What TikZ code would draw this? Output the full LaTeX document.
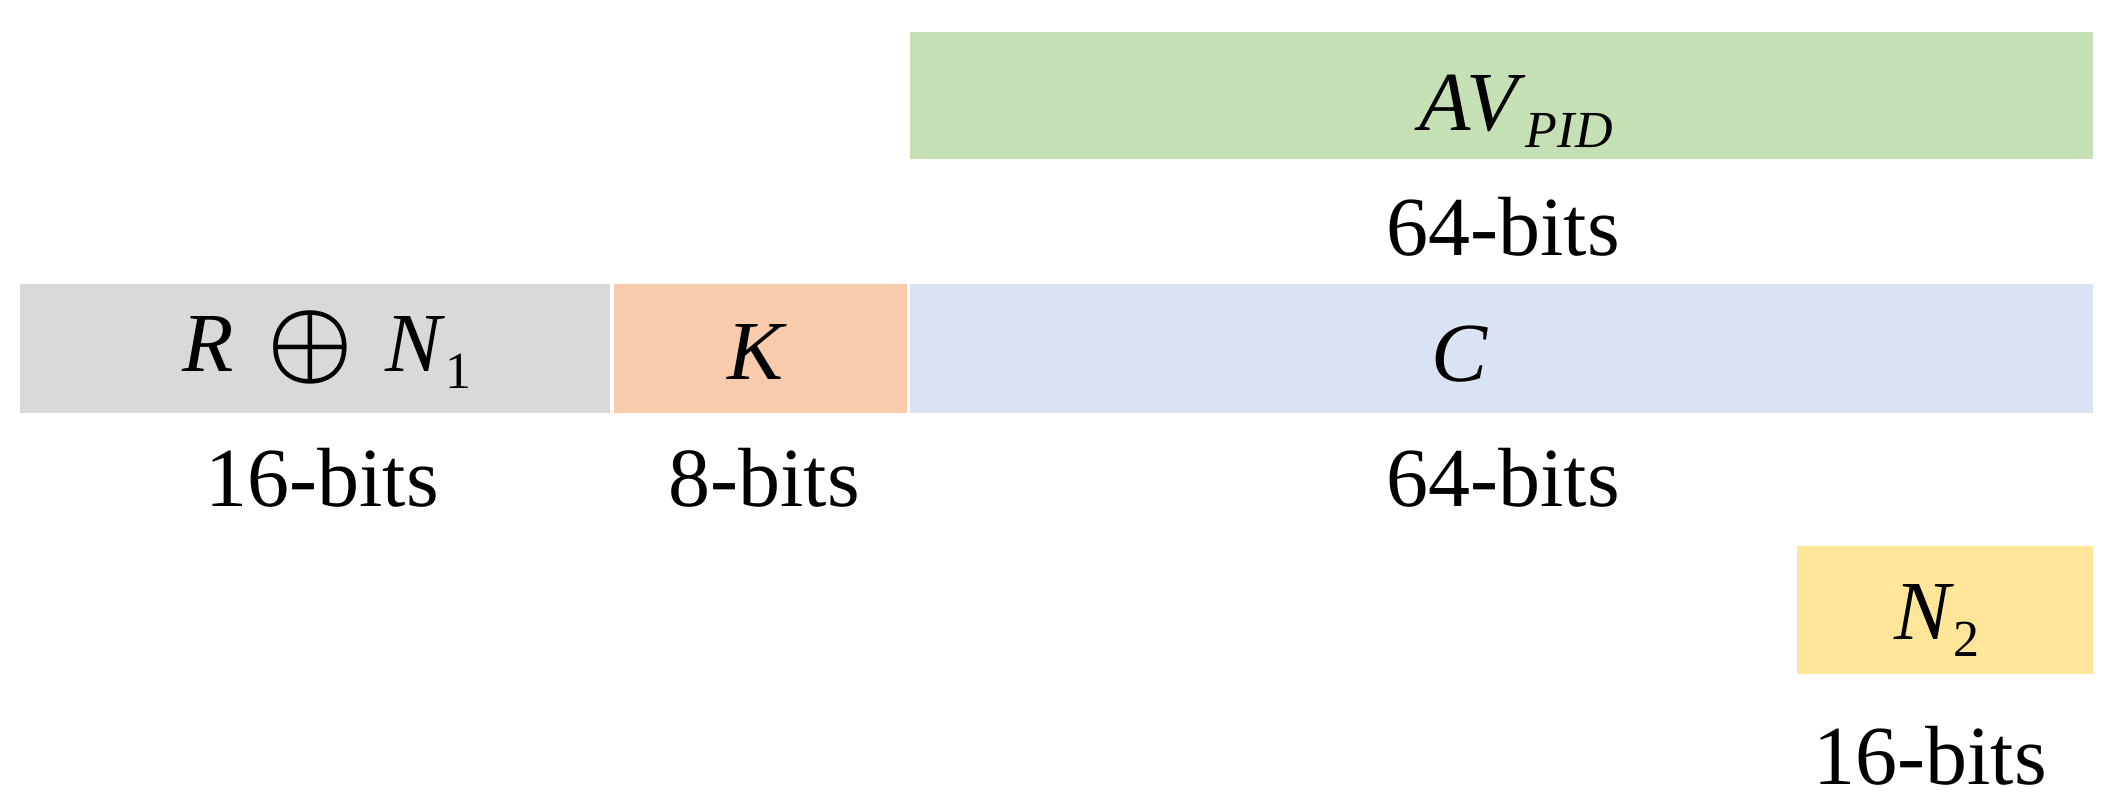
\documentclass[tikz,border=0pt]{standalone}
\usepackage{fix-cm}
\usepackage{bm}
\usepackage{fontspec}
\setmainfont{Liberation Serif}
\definecolor{cgray}{HTML}{D9D9D9}
\definecolor{corange}{HTML}{F8CBAD}
\definecolor{cblue}{HTML}{DAE3F3}
\definecolor{cgreen}{HTML}{C5E0B4}
\definecolor{cyellow}{HTML}{FFE699}
\newcommand{\sbs}[1]{\raisebox{-8.5pt}{\fontsize{26}{26}\selectfont #1}}
\begin{document}
\begin{tikzpicture}[x=0.5pt,y=-0.5pt,
  field/.style={rectangle,draw=none,inner sep=0pt,minimum height=64.5pt},
  txt/.style={inner sep=0pt,anchor=base,font=\fontsize{42}{48}\selectfont},
  bits/.style={inner sep=0pt,anchor=base,font=\fontsize{42}{48}\selectfont}]
\useasboundingbox (0,0) rectangle (2110,810);
% fields
\node[field,fill=cgreen,minimum width=591.5pt,minimum height=63.5pt] (av) at (1501.5,95.5) {};
\node[field,fill=cgray,minimum width=295pt] (rn) at (315,348.5) {};
\node[field,fill=corange,minimum width=146.5pt] (k) at (760.5,348.5) {};
\node[field,fill=cblue,minimum width=591.5pt] (c) at (1501.5,348.5) {};
\node[field,fill=cyellow,minimum width=148pt,minimum height=64pt] (n2) at (1945,610) {};
% field texts
\node[txt] (tav) at (1516,130) {\textit{AV}\sbs{\textit{PID}}};
\node[txt] (trn) at (327,371) {\textit{R}\hspace{17pt}{\fontsize{48}{48}\selectfont$\bm{\oplus}$}\hspace{16pt}\textit{N}\sbs{1}};
\node[txt] (tk) at (757,379) {\textit{K}};
\node[txt] (tc) at (1460,381) {\textit{C}};
\node[txt] (tn2) at (1937,639) {\textit{N}\sbs{2}};
% sizes
\node[bits] (bav) at (1503,255) {64-bits};
\node[bits] (brn) at (322,506) {16-bits};
\node[bits] (bk) at (764,506) {8-bits};
\node[bits] (bc) at (1503,506) {64-bits};
\node[bits] (bn2) at (1930,784) {16-bits};
\end{tikzpicture}
\end{document}
